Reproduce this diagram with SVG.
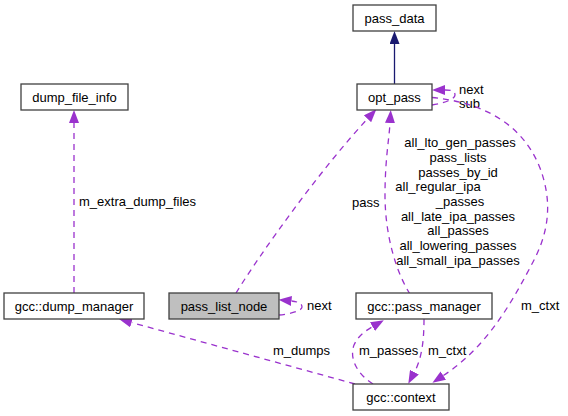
<svg xmlns="http://www.w3.org/2000/svg" width="568" height="416" viewBox="0 0 568 416">
<style>
.node rect{fill:#ffffff;stroke:#404040;stroke-width:1.3}
.node.cur rect{fill:#bfbfbf}
text{font-family:"Liberation Sans",Arial,Helvetica,sans-serif;font-size:13px;fill:#000000}
.node text{text-anchor:middle}
.e{fill:none;stroke:#9a32cd;stroke-width:1.3;stroke-dasharray:6,5}
.inh{fill:none;stroke:#191970;stroke-width:1.3}
</style>
<defs>
<marker id="ap" viewBox="0 0 13 10" refX="0" refY="5" markerUnits="userSpaceOnUse" markerWidth="13" markerHeight="10" orient="auto"><path d="M0,0 L13,5 L0,10 z" fill="#9a32cd"/></marker>
<marker id="an" viewBox="0 0 13 10" refX="0" refY="5" markerUnits="userSpaceOnUse" markerWidth="13" markerHeight="10" orient="auto"><path d="M0,0 L13,5 L0,10 z" fill="#191970"/></marker>
</defs>
<rect width="568" height="416" fill="#ffffff"/>
<g id="connectors">
<path class="inh" d="M394.5,84 L394.5,44" marker-end="url(#an)"/>
<path class="e" d="M74,293 L74,123" marker-end="url(#ap)"/>
<text x="79" y="206">m_extra_dump_files</text>
<path class="e" d="M236,293 C260,254 320,170 367.5,118.8" marker-end="url(#ap)"/>
<text x="352" y="207">pass</text>
<path class="e" d="M432,105 C445,103 455,99 455,95 C455,91 451,90 445,90" marker-end="url(#ap)"/>
<text x="459" y="93.5">next</text>
<text x="459" y="108">sub</text>
<path class="e" d="M432,97.5 C480,102 522,122 540,168 C552,200 550,230 533,262 C515,296 490,345 443.3,375.6" marker-end="url(#ap)"/>
<text x="521" y="310">m_ctxt</text>
<path class="e" d="M410,294 C396,272 385,235 385,195 C385,160 389,140 390,123" marker-end="url(#ap)"/>
<g text-anchor="middle">
<text x="460" y="147">all_lto_gen_passes</text>
<text x="458" y="162">pass_lists</text>
<text x="458" y="177">passes_by_id</text>
<text x="438" y="191">all_regular_ipa</text>
<text x="460" y="206">_passes</text>
<text x="458" y="221">all_late_ipa_passes</text>
<text x="458" y="235">all_passes</text>
<text x="458" y="250">all_lowering_passes</text>
<text x="458" y="265">all_small_ipa_passes</text>
</g>
<path class="e" d="M279,315 C290,314 302,311 302,307 C302,303 297,301.5 291.5,301" marker-end="url(#ap)"/>
<text x="307" y="310">next</text>
<path class="e" d="M355,384 L131.5,322.5" marker-end="url(#ap)"/>
<text x="273" y="355">m_dumps</text>
<path class="e" d="M373,384 C357,374 349,358 354,345 C358,336 365,331 372.5,326.7" marker-end="url(#ap)"/>
<text x="359" y="355">m_passes</text>
<path class="e" d="M424,319 C424,340 422,358 414.4,372.2" marker-end="url(#ap)"/>
<text x="428" y="355">m_ctxt</text>
</g>
<g id="pass_data" class="node"><rect x="353" y="5" width="83" height="26"/><text x="394.5" y="22.5">pass_data</text></g>
<g id="opt_pass" class="node"><rect x="357" y="84" width="75" height="26"/><text x="394.5" y="101.5">opt_pass</text></g>
<g id="dump_file_info" class="node"><rect x="21" y="84" width="107" height="26"/><text x="74.5" y="101.5">dump_file_info</text></g>
<g id="gcc_dump_manager" class="node"><rect x="4" y="293" width="140" height="26"/><text x="74" y="310.5">gcc::dump_manager</text></g>
<g id="pass_list_node" class="node cur"><rect x="169" y="293" width="110" height="26"/><text x="224" y="310.5">pass_list_node</text></g>
<g id="gcc_pass_manager" class="node"><rect x="356" y="293" width="136" height="26"/><text x="424" y="310.5">gcc::pass_manager</text></g>
<g id="gcc_context" class="node"><rect x="353" y="384" width="96" height="26"/><text x="401" y="401.5">gcc::context</text></g>
</svg>
